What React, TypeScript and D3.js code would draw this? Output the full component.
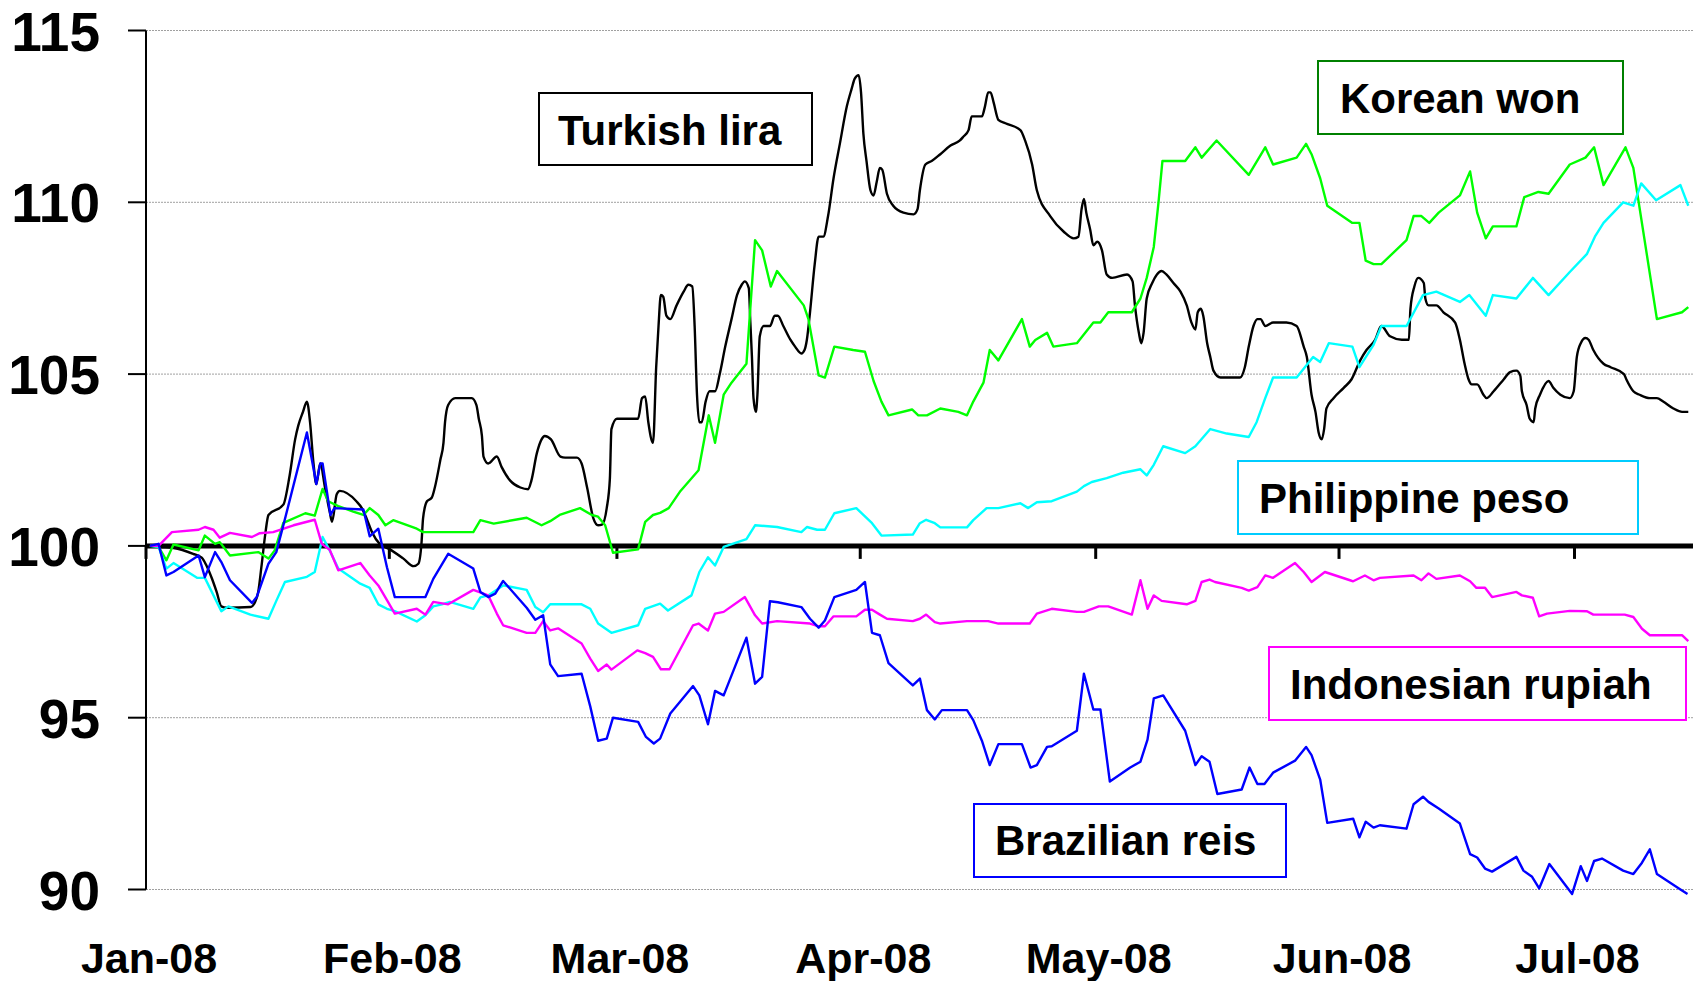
import React from "react";
import * as d3 from "d3";

// ---- DATA (day offset from 1 Jan 2008, index value) ----
const turkishLira: [number, number][] = [[0.5,100],[1.8,99.97],[3.5,99.94],[6,99.77],[7.1,99.66],[7.7,99.43],[8.4,99.05],[9,98.66],[9.6,98.24],[10.3,98.2],[13.3,98.22],[13.9,98.37],[14.3,98.66],[14.7,99.38],[15.2,100.35],[15.6,100.9],[17.5,101.2],[18.3,102.05],[19,103.1],[19.4,103.5],[20,103.9],[20.5,104.2],[20.9,103.6],[21.3,102.5],[21.7,101.8],[22.2,102.4],[22.8,101.7],[23.4,101.0],[23.7,100.7],[24.3,101.5],[24.7,101.6],[26.8,101.3],[27.5,101.1],[28.1,100.8],[28.8,100.4],[29.8,100.05],[30.9,99.92],[32.8,99.63],[34.1,99.41],[34.7,99.48],[35.1,100.08],[35.3,100.8],[35.8,101.3],[36.4,101.4],[36.8,101.7],[37.5,102.5],[37.9,103.0],[38.1,103.6],[38.5,104.1],[39.4,104.3],[41.5,104.3],[42.1,104.1],[42.4,103.7],[42.8,103.2],[43,102.6],[43.6,102.4],[44.7,102.6],[45.3,102.3],[46.4,101.9],[47.7,101.7],[48.7,101.65],[49.1,101.9],[49.8,102.7],[50.4,103.1],[50.8,103.2],[51.6,103.1],[52.8,102.6],[53.4,102.57],[54.9,102.57],[55.5,102.4],[56.2,101.7],[57,100.8],[57.6,100.6],[58.1,100.62],[58.7,101.1],[59.1,101.95],[59.3,103.4],[60,103.7],[62.7,103.7],[63.2,104.3],[63.6,104.35],[64,103.6],[64.6,103.0],[65,105.2],[65.3,106.4],[65.6,107.3],[65.9,107.25],[66.3,106.7],[66.8,106.6],[67.6,107.0],[68.5,107.4],[69.1,107.6],[69.6,107.55],[69.9,106.4],[70.2,104.4],[70.5,103.6],[70.8,103.6],[71.3,104.2],[71.8,104.5],[72.5,104.5],[73.1,105.0],[73.8,105.8],[74.6,106.6],[75.3,107.3],[75.9,107.6],[76.3,107.7],[76.8,107.5],[77,106.5],[77.2,105.5],[77.4,104.3],[77.7,103.9],[77.9,104.4],[78.2,106.1],[78.7,106.4],[79.5,106.4],[80.1,106.7],[80.5,106.7],[81.2,106.4],[82.1,106.0],[82.7,105.8],[83.5,105.6],[83.9,105.7],[84.2,106.0],[84.6,106.8],[85.2,108.2],[85.7,109.0],[86.3,109.0],[86.9,109.6],[87.6,110.7],[88.4,111.7],[89.3,112.8],[89.9,113.3],[90.3,113.6],[90.8,113.7],[91.1,113.2],[91.4,112.0],[91.8,111.2],[92.3,110.35],[92.7,110.2],[93.1,110.6],[93.5,111.0],[93.8,110.95],[94.4,110.25],[95.2,109.9],[96.5,109.7],[97.8,109.65],[98.3,109.8],[98.6,110.35],[99.3,111.1],[100.1,111.2],[101.2,111.4],[102.5,111.65],[103.7,111.8],[104.1,111.9],[104.8,112.1],[105.2,112.5],[105.8,112.5],[106.5,112.5],[106.9,112.8],[107.3,113.2],[107.6,113.2],[108,112.9],[108.6,112.4],[109.5,112.3],[111.4,112.1],[112,111.8],[112.9,111.1],[113.5,110.35],[115.2,109.6],[116.9,109.15],[118.2,108.95],[118.8,109.0],[119.2,109.8],[119.5,110.1],[119.8,109.7],[120.3,109.2],[120.7,108.75],[121.2,108.85],[121.8,108.6],[122.4,107.9],[123.1,107.8],[125,107.9],[125.7,107.7],[126,107.0],[126.5,106.2],[126.8,105.9],[127.1,106.2],[127.5,107.2],[128.2,107.65],[128.8,107.9],[129.4,108.0],[130,107.9],[130.9,107.65],[131.8,107.4],[132.6,107.0],[133.2,106.5],[133.7,106.3],[134,106.8],[134.4,106.9],[134.7,106.7],[135.2,105.9],[135.6,105.5],[136,105.1],[136.9,104.9],[139.4,104.9],[140,105.2],[140.5,105.8],[141.1,106.4],[141.6,106.6],[142,106.6],[142.6,106.4],[143.6,106.5],[145.3,106.5],[146.6,106.4],[147.5,105.8],[147.9,105.5],[148.5,104.4],[149,103.9],[149.4,103.3],[149.8,103.1],[150.1,103.4],[150.4,104.0],[151.3,104.3],[152.6,104.6],[153.6,104.85],[154.7,105.4],[155.5,105.7],[156.6,106.0],[157.4,106.4],[158.5,106.1],[160,106.0],[160.9,106.0],[161.1,106.9],[161.6,107.55],[162.1,107.8],[162.8,107.65],[163,107.2],[163.4,107.0],[164.4,107.0],[165.3,106.8],[166.8,106.5],[167.4,106.0],[168,105.3],[168.5,104.85],[168.9,104.7],[169.6,104.7],[170.4,104.4],[170.8,104.3],[171.7,104.5],[173,104.85],[173.8,105.06],[174.6,105.1],[175.1,104.95],[175.3,104.5],[175.9,104.1],[176.3,103.7],[176.8,103.6],[177,104.0],[177.6,104.4],[178.7,104.8],[179.3,104.6],[180.2,104.4],[181.4,104.3],[181.9,104.5],[182.3,105.5],[182.8,105.9],[183.4,106.05],[183.8,106.0],[184.4,105.7],[185.7,105.3],[186.6,105.2],[188.3,105.0],[188.6,104.85],[189.5,104.5],[190.3,104.4],[191.6,104.3],[192.5,104.3],[193.3,104.2],[194.6,104.0],[195.7,103.9],[196.5,103.9]];

const koreanWon: [number, number][] = [[0.5,100],[1.6,99.97],[2.6,99.58],[3.5,100.04],[6.7,99.87],[7.5,100.3],[8.8,100.06],[9.4,100.11],[10.7,99.72],[14.3,99.82],[15.6,99.63],[16.4,99.87],[17.5,100.67],[20.3,100.95],[21.5,100.88],[22.5,101.66],[23.2,101.3],[24.5,101.16],[26.4,101.0],[27.7,100.9],[28.5,101.1],[29.6,100.9],[30.5,100.6],[31.5,100.75],[34.5,100.5],[35.3,100.4],[41.7,100.4],[42.6,100.75],[44.3,100.65],[48.5,100.82],[50.4,100.6],[51.5,100.72],[52.7,100.9],[55.3,101.1],[56.8,100.9],[57.6,100.85],[58.5,100.6],[59.5,99.8],[62.7,99.9],[63.6,100.7],[64.6,100.9],[65.5,100.96],[66.6,101.1],[68.1,101.6],[70.4,102.2],[71.7,103.8],[72.5,103.0],[73.6,104.4],[74.6,104.75],[76.5,105.3],[77.6,108.9],[78.5,108.6],[79.6,107.55],[80.4,108.0],[83.8,107.0],[84.4,106.6],[85.7,104.96],[86.5,104.9],[87.7,105.8],[90.1,105.7],[91.6,105.65],[92.7,104.8],[93.7,104.2],[94.6,103.8],[97.6,103.97],[98.4,103.8],[99.5,103.8],[101.2,104.0],[103.5,103.9],[104.6,103.8],[105.4,104.2],[106.7,104.75],[107.5,105.7],[108.6,105.4],[111.6,106.6],[112.6,105.8],[113.3,105.99],[114.8,106.2],[115.6,105.8],[118.6,105.9],[120.7,106.5],[121.6,106.5],[122.6,106.8],[125.6,106.8],[126.7,107.2],[127.5,107.8],[128.4,108.7],[129,110.0],[129.5,111.2],[132.4,111.2],[133.7,111.6],[134.5,111.3],[136.4,111.8],[140.5,110.8],[142.6,111.6],[143.6,111.1],[146.6,111.3],[147.8,111.7],[148.5,111.4],[149.6,110.7],[150.5,109.9],[153.7,109.4],[154.6,109.4],[155.4,108.3],[156.4,108.2],[157.4,108.2],[160.6,108.9],[161.5,109.6],[162.5,109.6],[163.5,109.4],[164.7,109.7],[167.4,110.2],[168.7,110.9],[169.6,109.7],[170.7,108.95],[171.6,109.3],[174.6,109.3],[175.6,110.15],[177.4,110.3],[178.7,110.25],[181.4,111.1],[183.4,111.3],[184.5,111.6],[185.7,110.5],[188.5,111.6],[189.5,111.0],[192.5,106.6],[195.7,106.8],[196.5,106.95]];

const philippinePeso: [number, number][] = [[0.5,100],[1.6,99.97],[2.6,99.34],[3.5,99.5],[6.5,99.07],[7.5,99.07],[9.6,98.1],[10.5,98.24],[13.3,98.0],[15.6,97.88],[16.6,98.4],[17.7,98.95],[20.5,99.1],[21.5,99.24],[22.5,100.26],[23.4,99.87],[24.5,99.34],[27.3,98.9],[28.5,98.78],[29.6,98.3],[30.7,98.17],[31.7,98.1],[34.5,97.8],[35.6,97.98],[36.6,98.24],[37.7,98.3],[38.7,98.37],[41.7,98.17],[42.6,98.5],[43.6,98.56],[45.5,98.85],[48.5,98.72],[49.6,98.22],[50.6,98.07],[51.5,98.3],[55.5,98.3],[56.6,98.17],[57.6,97.74],[59.3,97.47],[62.7,97.69],[63.6,98.17],[65.5,98.32],[66.5,98.12],[69.5,98.56],[70.5,99.24],[71.6,99.67],[72.5,99.43],[73.6,99.97],[76.5,100.2],[77.6,100.6],[80.4,100.55],[83.5,100.4],[84.2,100.55],[85.5,100.47],[86.5,100.47],[87.7,100.95],[90.5,101.1],[92.5,100.66],[93.7,100.3],[97.7,100.33],[98.6,100.66],[99.4,100.76],[100.5,100.66],[101.2,100.54],[104.6,100.54],[105.4,100.75],[107.1,101.1],[108.6,101.1],[111.4,101.24],[112.4,101.1],[113.5,101.27],[115.4,101.3],[118.6,101.58],[119.5,101.74],[120.5,101.86],[122.4,101.97],[124.5,102.13],[126.7,102.23],[127.5,102.05],[128.4,102.36],[129.6,102.9],[132.4,102.7],[133.7,102.9],[135.6,103.4],[137.7,103.27],[140.5,103.17],[141.5,103.6],[142.6,104.3],[143.6,104.9],[146.6,104.9],[148.7,105.5],[149.6,105.35],[150.7,105.9],[153.7,105.8],[154.6,105.2],[156.4,105.85],[157.4,106.4],[160.6,106.4],[162.7,107.3],[164.4,107.4],[167.4,107.1],[168.6,107.3],[170.7,106.7],[171.6,107.3],[174.6,107.2],[176.7,107.8],[178.7,107.3],[181.4,107.97],[183.6,108.5],[184.6,109.0],[185.7,109.4],[188.2,110.0],[189.5,109.9],[190.5,110.55],[192.4,110.06],[195.5,110.5],[196.5,109.9]];

const indonesianRupiah: [number, number][] = [[0.5,100],[1.6,100],[3.3,100.4],[6.7,100.47],[7.5,100.55],[8.6,100.47],[9.4,100.24],[10.7,100.38],[13.5,100.26],[14.5,100.37],[16.2,100.4],[18.8,100.6],[21.5,100.76],[22.4,100.06],[23.4,99.89],[24.5,99.29],[27.3,99.5],[28.5,99.14],[29.6,98.85],[30.7,98.42],[31.7,98.03],[34.5,98.17],[35.6,98.0],[36.6,98.37],[38.5,98.3],[41.7,98.72],[43.6,98.56],[44.7,98.03],[45.5,97.69],[48.5,97.47],[49.6,97.47],[50.6,97.81],[51.5,97.54],[52.5,97.6],[55.5,97.16],[56.6,96.72],[57.6,96.36],[58.7,96.55],[59.3,96.4],[62.6,96.96],[63.6,96.88],[64.6,96.77],[65.6,96.41],[66.7,96.41],[69.7,97.69],[70.4,97.74],[71.6,97.54],[72.5,98.03],[73.6,98.08],[76.3,98.51],[77.6,97.98],[78.5,97.74],[80.4,97.81],[84.6,97.74],[85.7,97.66],[86.5,97.66],[87.6,97.95],[90.5,97.95],[91.6,98.14],[92.5,98.14],[93.5,98.0],[94.4,97.88],[97.7,97.81],[98.6,97.88],[99.4,98.0],[100.5,97.78],[101.2,97.74],[104.6,97.81],[107.3,97.81],[108.6,97.74],[112.6,97.74],[113.5,98.03],[115.4,98.17],[118.6,98.08],[119.5,98.08],[121.4,98.24],[122.6,98.24],[125.6,98.0],[126.7,99.0],[127.6,98.17],[128.4,98.56],[129.4,98.4],[132.6,98.3],[133.7,98.4],[134.5,98.95],[135.5,99.02],[136.2,98.95],[139.6,98.78],[140.5,98.7],[141.6,98.8],[142.6,99.14],[143.6,99.07],[146.4,99.5],[147.5,99.24],[148.5,98.95],[150.2,99.24],[153.4,99.0],[153.8,98.97],[155.3,99.14],[156.4,99.0],[157.2,99.07],[161.5,99.14],[162.5,99.0],[163.4,99.2],[164.4,99.04],[167.4,99.14],[168.7,98.97],[169.5,98.78],[170.6,98.78],[171.5,98.51],[174.6,98.66],[175.3,98.56],[176.7,98.49],[177.5,97.95],[178.5,98.03],[181.4,98.11],[183.6,98.1],[184.4,98.0],[188.4,98.0],[189.5,97.93],[190.6,97.59],[191.6,97.4],[195.7,97.4],[196.5,97.23]];

const brazilianReis: [number, number][] = [[0.5,100],[1.6,100.06],[2.6,99.14],[3.5,99.24],[6.7,99.72],[7.5,99.09],[8.8,99.82],[9.6,99.53],[10.7,99.0],[13.5,98.34],[14.1,98.51],[15.6,99.48],[16.6,99.82],[17.5,100.6],[20.5,103.3],[21.7,101.8],[22.2,102.4],[22.5,102.4],[23.5,100.9],[24,101.1],[27.7,101.06],[28.5,100.28],[29.6,100.5],[30.7,99.38],[31.7,98.51],[35.6,98.51],[36.6,99.04],[38.5,99.77],[41.7,99.34],[42.6,98.66],[43.6,98.51],[44.5,98.61],[45.5,98.98],[48.5,98.2],[49.6,97.85],[50.6,97.98],[51.5,96.55],[52.5,96.21],[55.5,96.28],[56.6,95.33],[57.6,94.33],[58.7,94.39],[59.5,95.0],[62.7,94.88],[63.7,94.44],[64.7,94.25],[65.5,94.39],[66.8,95.12],[69.7,95.92],[70.5,95.65],[71.6,94.81],[72.5,95.78],[73.6,95.65],[76.5,97.33],[77.6,95.99],[78.5,96.19],[79.5,98.39],[80.5,98.36],[83.5,98.22],[84.6,97.88],[85.7,97.62],[86.5,97.83],[87.7,98.51],[90.5,98.72],[91.6,98.95],[92.5,97.47],[93.5,97.4],[94.6,96.59],[97.7,95.94],[98.6,96.14],[99.5,95.22],[100.5,94.95],[101.4,95.22],[104.6,95.22],[105.4,94.93],[106.5,94.33],[107.5,93.62],[108.6,94.23],[111.6,94.23],[112.7,93.55],[113.5,93.62],[114.8,94.15],[115.4,94.17],[118.6,94.62],[119.5,96.28],[120.7,95.24],[121.6,95.24],[122.8,93.14],[125.4,93.55],[126.7,93.72],[127.6,94.36],[128.4,95.56],[129.6,95.65],[132.4,94.62],[133.7,93.62],[134.5,93.88],[135.5,93.72],[136.5,92.78],[139.6,92.91],[140.6,93.55],[141.6,93.07],[142.5,93.07],[143.6,93.4],[146.4,93.75],[147.8,94.15],[148.5,93.91],[149.6,93.2],[150.5,91.94],[153.8,92.06],[154.6,91.52],[155.4,91.97],[156.4,91.8],[157.2,91.87],[160.6,91.77],[161.5,92.48],[162.7,92.7],[163.4,92.55],[164.7,92.36],[167.4,91.92],[168.7,91.03],[169.6,90.93],[170.6,90.61],[171.5,90.52],[174.6,90.95],[175.5,90.55],[176.6,90.37],[177.5,90.03],[178.8,90.74],[181.7,89.87],[182.8,90.68],[183.6,90.25],[184.5,90.83],[185.5,90.9],[188.2,90.55],[189.5,90.45],[190.6,90.78],[191.6,91.17],[192.5,90.45],[195.5,90.0],[196.4,89.87]];

const seriesNames = ["Turkish lira", "Korean won", "Philippine peso", "Indonesian rupiah", "Brazilian reis"];
const yTicks = [90, 95, 100, 105, 110, 115];
const monthTicks = ["2008-01-01", "2008-02-01", "2008-03-01", "2008-04-01", "2008-05-01", "2008-06-01", "2008-07-01"];
const monthLabels = ["Jan-08", "Feb-08", "Mar-08", "Apr-08", "May-08", "Jun-08", "Jul-08"];

// ---- LAYOUT / STYLE ----
const W = 1693, H = 981;
const FONT = "'Liberation Sans', Arial, Helvetica, sans-serif";
const START = Date.UTC(2008, 0, 1);
const DAY = 864e5;
const lineColors = ["#000000", "#00FF00", "#00FFFF", "#FF00FF", "#0000FF"];
const boxColors = ["#000000", "#008000", "#00CCFF", "#FF00FF", "#0000FF"];
const boxes = [
  { x: 539, y: 93, w: 273, h: 72, tx: 558, ty: 145 },
  { x: 1318, y: 61, w: 305, h: 73, tx: 1340, ty: 113 },
  { x: 1238, y: 461, w: 400, h: 73, tx: 1259, ty: 513 },
  { x: 1269, y: 647, w: 417, h: 73, tx: 1290, ty: 699 },
  { x: 974, y: 804, w: 312, h: 73, tx: 995, ty: 855 },
];

export default function App() {
  const x = d3.scaleUtc().domain([new Date(START), new Date(START + 197.1 * DAY)]).range([146, 1693]);
  const y = d3.scaleLinear().domain([90, 115]).range([889.5, 30.5]);
  const toDate = (d: number) => new Date(START + d * DAY);

  const series = [turkishLira, koreanWon, philippinePeso, indonesianRupiah, brazilianReis];
  const mkLine = (smooth: boolean) =>
    d3.line<[number, number]>()
      .x((p) => x(toDate(p[0])))
      .y((p) => y(p[1]))
      .curve(smooth ? d3.curveMonotoneX : d3.curveLinear);

  const x0 = x(new Date(START));
  const x1 = 1693;

  return (
    <svg width={W} height={H} style={{ position: "absolute", left: 0, top: 0, background: "#fff" }} fontFamily={FONT}>
      <rect x={0} y={0} width={W} height={H} fill="#fff" />
      {/* gridlines */}
      {yTicks.filter((t) => t !== 100).map((t) => (
        <line key={"g" + t} x1={x0} x2={x1} y1={y(t)} y2={y(t)} stroke="#a0a0a0" strokeWidth={1} strokeDasharray="2,1" />
      ))}
      {/* y axis */}
      <line x1={x0} x2={x0} y1={y(115)} y2={y(90)} stroke="#000" strokeWidth={2} />
      {yTicks.map((t) => (
        <g key={"yt" + t}>
          <line x1={128} x2={x0} y1={y(t)} y2={y(t)} stroke="#000" strokeWidth={2} />
          <text x={100} y={y(t) + 20} textAnchor="end" fontSize={55} fontWeight="bold" fill="#000">{t}</text>
        </g>
      ))}
      {/* category axis at 100 */}
      <line x1={x0} x2={x1} y1={y(100)} y2={y(100)} stroke="#000" strokeWidth={5} />
      {monthTicks.map((m, i) => {
        const xm = x(new Date(m + "T00:00:00Z"));
        return (
          <g key={m}>
            <line x1={xm} x2={xm} y1={y(100)} y2={y(100) + 13} stroke="#000" strokeWidth={3} />
            <text x={xm + 3} y={973} textAnchor="middle" fontSize={43} fontWeight="bold" fill="#000">{monthLabels[i]}</text>
          </g>
        );
      })}
      {/* series */}
      {series.map((s, i) => (
        <path key={"s" + i} d={mkLine(i === 0)(s) || ""} fill="none" stroke={lineColors[i]} strokeWidth={2.4} strokeLinejoin="round" />
      ))}
      {/* labels */}
      {boxes.map((b, i) => (
        <g key={"b" + i}>
          <rect x={b.x} y={b.y} width={b.w} height={b.h} fill="#fff" stroke={boxColors[i]} strokeWidth={2} />
          <text x={b.tx} y={b.ty} fontSize={42} fontWeight="bold" fill="#000">{seriesNames[i]}</text>
        </g>
      ))}
    </svg>
  );
}
